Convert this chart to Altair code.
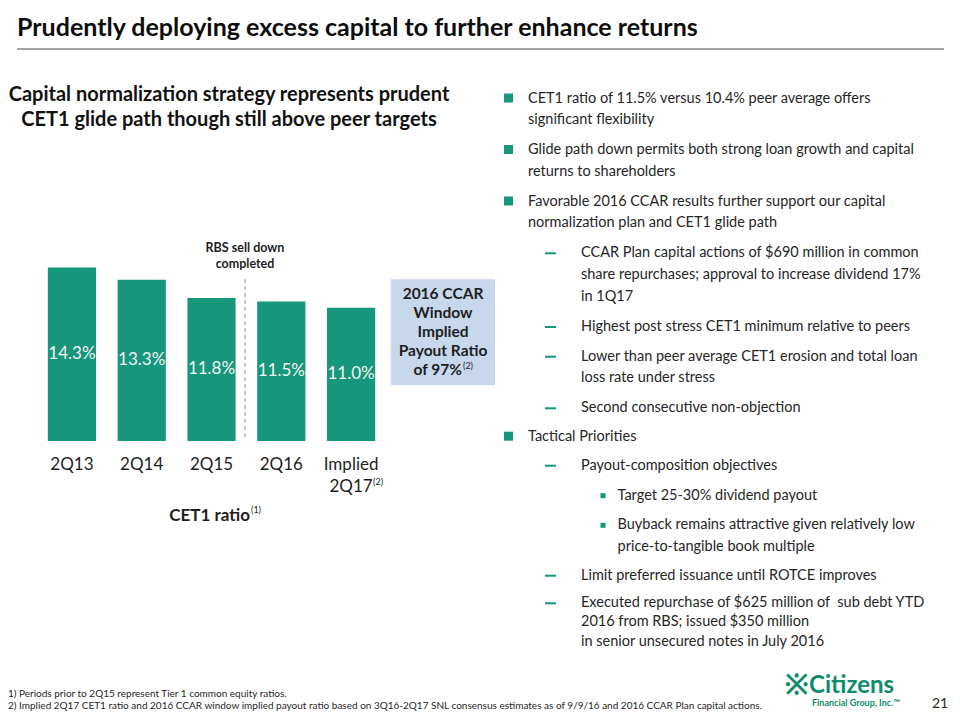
import altair as alt
import pandas as pd

# ---------------- data ----------------
categories = ["2Q13", "2Q14", "2Q15", "2Q16", "Implied 2Q17"]
cet1_ratio = [14.3, 13.3, 11.8, 11.5, 11.0]
bar_labels = ["14.3%", "13.3%", "11.8%", "11.5%", "11.0%"]
axis_line1 = ["2Q13", "2Q14", "2Q15", "2Q16", "Implied"]
axis_line2 = ["", "", "", "", "2Q17"]
axis_sup = ["", "", "", "", "(2)"]

title_text = "Prudently deploying excess capital to further enhance returns"
subtitle_lines = ["Capital normalization strategy represents prudent",
                  "CET1 glide path though still above peer targets"]
rbs_lines = ["RBS sell down", "completed"]
box_lines = ["2016 CCAR", "Window", "Implied", "Payout Ratio"]
box_last = "of 97%"
chart_caption = "CET1 ratio"

bullet_kinds = ["square", "square", "square", "dash", "dash", "dash", "dash",
                "square", "dash", "small", "small", "dash", "dash"]
bullet_texts = [
    ["CET1 ratio of 11.5% versus 10.4% peer average offers", "significant flexibility"],
    ["Glide path down permits both strong loan growth and capital", "returns to shareholders"],
    ["Favorable 2016 CCAR results further support our capital", "normalization plan and CET1 glide path"],
    ["CCAR Plan capital actions of $690 million in common",
     "share repurchases; approval to increase dividend 17%", "in 1Q17"],
    ["Highest post stress CET1 minimum relative to peers"],
    ["Lower than peer average CET1 erosion and total loan", "loss rate under stress"],
    ["Second consecutive non-objection"],
    ["Tactical Priorities"],
    ["Payout-composition objectives"],
    ["Target 25-30% dividend payout"],
    ["Buyback remains attractive given relatively low", "price-to-tangible book multiple"],
    ["Limit preferred issuance until ROTCE improves"],
    ["Executed repurchase of $625 million of\u00a0 sub debt YTD", "2016 from RBS; issued $350 million",
     "in senior unsecured notes in July 2016"],
]
footnotes = [
    "1) Periods prior to 2Q15 represent Tier 1 common equity ratios.",
    "2) Implied 2Q17 CET1 ratio and 2016 CCAR window implied payout ratio based on 3Q16-2Q17 SNL consensus estimates as of 9/9/16 and 2016 CCAR Plan capital actions.",
]

# ---------------- layout (page pixels) ----------------
PL, PT, W, H = 29, 239, 349, 194
TOTAL_W, TOTAL_H = 944, 704
FONT = "Lato"
GREEN = "#16967A"
LOGO_GREEN = "#0E8C6A"
DARK = "#1E1E1E"

bullet_line_y = [[98.5, 120], [150, 171.5], [201.5, 223.3], [253.3, 275, 296.7], [327],
                 [356.7, 378.3], [408.3], [436.7], [465.7], [495.7], [525.3, 547.3],
                 [575.7], [603.3, 622.3, 641.7]]


def X(px):
    return px - 8 - PL


def Y(py):
    return py - 8 - PT


dummy = pd.DataFrame({"a": [0]})
layers = []


def txt(s, x, y, size=14, weight="normal", color=DARK, align="left", baseline="middle"):
    layers.append(
        alt.Chart(dummy).mark_text(text=s, font=FONT, fontSize=size, fontWeight=weight,
                                   color=color, align=align, baseline=baseline)
        .encode(x=alt.value(X(x)), y=alt.value(Y(y)))
    )


def rule(x1, x2, y1, y2, color, width=1, dash=None):
    kw = dict(color=color, strokeWidth=width)
    if dash:
        kw["strokeDash"] = dash
    layers.append(
        alt.Chart(dummy).mark_rule(**kw)
        .encode(x=alt.value(X(x1)), x2=alt.value(X(x2)), y=alt.value(Y(y1)), y2=alt.value(Y(y2)))
    )


def square(x, y, size, color):
    layers.append(
        alt.Chart(dummy).mark_square(size=size, color=color, opacity=1)
        .encode(x=alt.value(X(x)), y=alt.value(Y(y)))
    )


# ---------------- bar chart ----------------
df = pd.DataFrame({"cat": categories, "value": cet1_ratio, "label": bar_labels,
                   "l1": axis_line1, "l2": axis_line2, "sup": axis_sup})
xscale = alt.Scale(paddingInner=0.31, paddingOuter=0.155)
yscale = alt.Scale(domain=[0, 16])
base = alt.Chart(df)

bars = base.mark_bar(color=GREEN).encode(
    x=alt.X("cat:N", sort=categories, scale=xscale,
            axis=alt.Axis(title=None, labels=False, ticks=False, domain=True,
                          domainColor="#A6A6A6", domainWidth=2, grid=False)),
    y=alt.Y("value:Q", scale=yscale, axis=None),
)
bar_text = base.transform_calculate(mid="datum.value / 2").mark_text(
    font=FONT, fontSize=17, color="#F4F4F4", baseline="middle").encode(
    x=alt.X("cat:N", sort=categories, scale=xscale, axis=None),
    y=alt.Y("mid:Q", scale=yscale, axis=None),
    text="label:N",
)
cat1 = base.mark_text(font=FONT, fontSize=17, color=DARK, baseline="middle").encode(
    x=alt.X("cat:N", sort=categories, scale=xscale, axis=None),
    y=alt.value(Y(465)), text="l1:N")
cat2 = base.mark_text(font=FONT, fontSize=17, color=DARK, baseline="middle").encode(
    x=alt.X("cat:N", sort=categories, scale=xscale, axis=None),
    y=alt.value(Y(487)), text="l2:N")
cat_sup = base.mark_text(font=FONT, fontSize=9, color=DARK, baseline="middle",
                         align="left", dx=22).encode(
    x=alt.X("cat:N", sort=categories, scale=xscale, axis=None),
    y=alt.value(Y(482)), text="sup:N")

# divider + RBS note
rule(245, 245, 279, 440, "#8C8C8C", 1, [4, 3])
for s, y in zip(rbs_lines, [248, 263.5]):
    txt(s, 245, y, size=12.5, weight="bold", align="center")

# caption
txt(chart_caption, 250, 516, size=17, weight="bold", align="right")
txt("(1)", 251, 510, size=9, align="left")

# box
layers.append(
    alt.Chart(dummy).mark_rect(color="#C7D7EC")
    .encode(x=alt.value(X(390.7)), x2=alt.value(X(495)), y=alt.value(Y(279.3)), y2=alt.value(Y(385.3)))
)
for s, y in zip(box_lines, [294, 313, 332, 351.3]):
    txt(s, 443, y, size=15.5, weight="bold", align="center")
txt(box_last, 462, 370.3, size=15.5, weight="bold", align="right")
txt("(2)", 463, 366, size=9, align="left")

# title + rule
txt(title_text, 17, 28, size=25, weight="bold", color="#0D0D0D")
rule(17, 944, 49, 49, "#A6A6A6", 2)

# subtitle
for s, y in zip(subtitle_lines, [95, 120]):
    txt(s, 229, y, size=20, weight="bold", color="#111111", align="center")

# bullets
for kind, lines, ys in zip(bullet_kinds, bullet_texts, bullet_line_y):
    if kind == "square":
        square(508.5, ys[0] - 0.5, 81, GREEN)
        tx = 528
    elif kind == "dash":
        rule(545, 556, ys[0], ys[0], GREEN, 2)
        tx = 581
    else:
        square(603, ys[0], 25, GREEN)
        tx = 617.5
    for s, y in zip(lines, ys):
        txt(s, tx, y, size=14.5, color="#262626")

# footnotes
for s, y in zip(footnotes, [694, 706]):
    txt(s, 8, y, size=10, color="#262626")

# logo + page number
txt("※", 796, 686, size=28, weight="bold", color=LOGO_GREEN, align="center")
txt("Citizens", 809, 686, size=24, weight="bold", color=LOGO_GREEN)
txt("Financial Group, Inc.™", 812, 703, size=9, weight="bold", color=LOGO_GREEN)
txt("21", 940, 704, size=14, color="#262626", align="center")

chart = alt.layer(bars, bar_text, cat1, cat2, cat_sup, *layers).properties(
    width=W, height=H,
    padding={"left": PL, "top": PT, "right": TOTAL_W - PL - W, "bottom": TOTAL_H - PT - H},
    autosize=alt.AutoSizeParams(type="none"),
    background="white",
).configure_view(stroke=None)

chart.save("out.html", embed_options={"renderer": "svg", "actions": False})
